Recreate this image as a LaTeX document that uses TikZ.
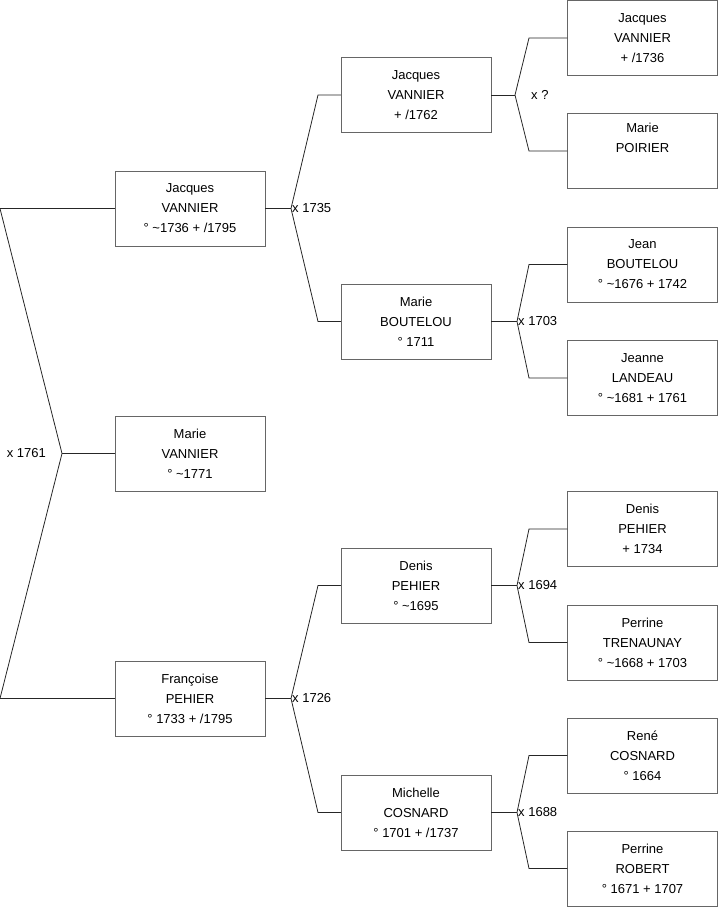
\documentclass[tikz,border=0pt]{standalone}
\usepackage{fontspec}
\setmainfont{Liberation Sans}
\begin{document}
\begin{tikzpicture}[x=1pt,y=-1pt,
	person/.style={draw=black!60, fill=white, minimum width=150pt, minimum height=75pt, inner sep=0pt, align=center, font=\fontsize{13}{20}\selectfont},
	link/.style={draw=black!85, line width=0.8pt},
	union/.style={inner sep=1pt, font=\fontsize{13}{15}\selectfont}]
	\useasboundingbox (0,0) rectangle (719,908);
	% generation 1
	\node[person] (jacques1) at (190,208.5) {Jacques\\VANNIER\\° \textasciitilde1736 + /1795};
	\node[person] (marie1) at (190,453.5) {Marie\\VANNIER\\° \textasciitilde1771};
	\node[person] (francoise) at (190,698.5) {Françoise\\PEHIER\\° 1733 + /1795};
	% generation 2
	\node[person] (jacques2) at (416,95) {Jacques\\VANNIER\\+ /1762};
	\node[person] (marieb) at (416,321.5) {Marie\\BOUTELOU\\° 1711};
	\node[person] (denis2) at (416,585.5) {Denis\\PEHIER\\° \textasciitilde1695};
	\node[person] (michelle) at (416,812.5) {Michelle\\COSNARD\\° 1701 + /1737};
	% generation 3
	\node[person] (jacques3) at (642.5,38) {Jacques\\VANNIER\\+ /1736};
	\node[person] (mariep) at (642.5,151) {Marie\\POIRIER\\\strut};
	\node[person] (jean) at (642.5,264.5) {Jean\\BOUTELOU\\° \textasciitilde1676 + 1742};
	\node[person] (jeanne) at (642.5,378) {Jeanne\\LANDEAU\\° \textasciitilde1681 + 1761};
	\node[person] (denis3) at (642.5,529) {Denis\\PEHIER\\+ 1734};
	\node[person] (perrinet) at (642.5,642.5) {Perrine\\TRENAUNAY\\° \textasciitilde1668 + 1703};
	\node[person] (rene) at (642.5,755.5) {René\\COSNARD\\° 1664};
	\node[person] (perriner) at (642.5,868.5) {Perrine\\ROBERT\\° 1671 + 1707};
	% couple brackets
	\coordinate (top0) at (0,208.5);
	\coordinate (bot0) at (0,698.5);
	\coordinate (x1761) at (62,453.5);
	\draw[link] (jacques1.west) -- (top0) -- (x1761) -- (bot0) -- (francoise.west);
	\draw[link] (x1761) -- (marie1.west);
	\node[union, anchor=east] at ([xshift=-15pt]x1761) {x 1761};
	\foreach \child/\dad/\mum/\jx/\bx/\lab/\lx in {
		jacques1/jacques2/marieb/291/318/x 1735/0,
		francoise/denis2/michelle/291/318/x 1726/0,
		jacques2/jacques3/mariep/515/529/x ?/15,
		marieb/jean/jeanne/517/529/x 1703/0,
		denis2/denis3/perrinet/517/529/x 1694/0,
		michelle/rene/perriner/517/529/x 1688/0}{
		\coordinate (j) at (\jx,0 |- \child.east);
		\draw[link] (\child.east) -- (j);
		\draw[link] (\dad.west) -- (\bx,0 |- \dad.west) -- (j) -- (\bx,0 |- \mum.west) -- (\mum.west);
		\node[union, anchor=west] at ([xshift=\lx pt]j) {\lab};
	}
\end{tikzpicture}
\end{document}
